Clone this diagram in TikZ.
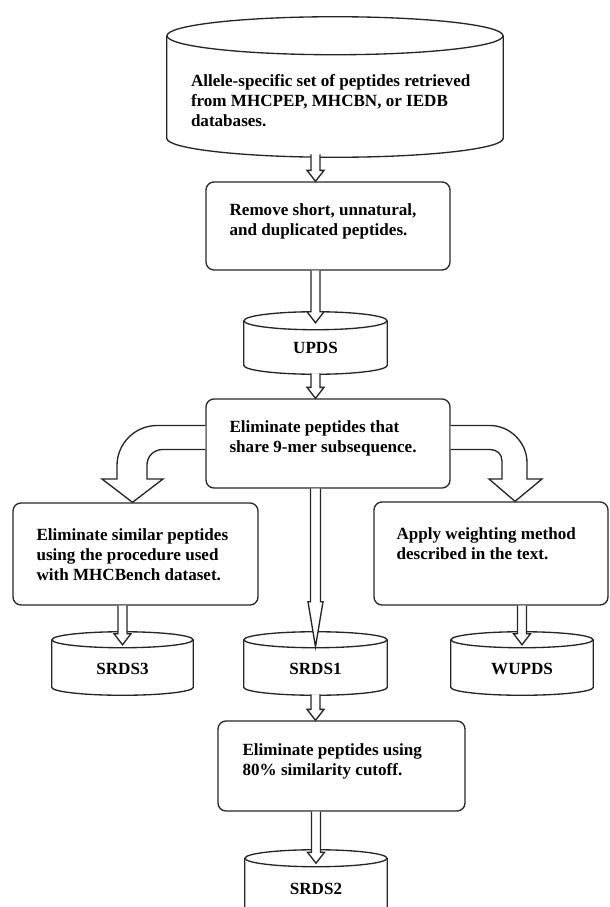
\documentclass[tikz,border=0pt]{standalone}
\usepackage{fontspec}
\setmainfont{Liberation Serif}
\usetikzlibrary{calc}

\newcommand\pxu{0.75pt}

% database cylinder drawn round a body node: name, x radius, y radius
\newcommand\dbshape[3]{%
  \draw[dbline] (#1.north) ellipse [x radius=#2*\pxu, y radius=#3*\pxu];
  \draw[dbline] (#1.north west) -- (#1.south west)
    .. controls ($(#1.south west)+(0,0.552*#3)$) and ($(#1.south)+(-0.552*#2,#3)$) .. ($(#1.south)+(0,#3)$)
    .. controls ($(#1.south)+(0.552*#2,#3)$) and ($(#1.south east)+(0,0.552*#3)$) .. (#1.south east)
    -- (#1.north east);
}

% hollow block arrow going down
\newcommand\blockarrow[2]{%
  \draw[blockarrow] ($(#1)+(-4.5,0)$) -- ($(#2)+(-4.5,-11)$) -- ($(#2)+(-8.5,-11)$) -- (#2)
    -- ($(#2)+(8.5,-11)$) -- ($(#2)+(4.5,-11)$) -- ($(#1)+(4.5,0)$);
}

\tikzset{
  procbox/.style={draw=black!85, line width=1pt, rounded corners=6pt, inner sep=0pt},
  proctext/.style={anchor=north west, inner sep=0pt, align=left},
  dbnode/.style={inner sep=0pt, text height=16pt},
  dbline/.style={draw=black!85, line width=1pt},
  blockarrow/.style={draw=black!85, fill=white, line width=1pt, line join=miter}
}

\begin{document}
\begin{tikzpicture}[x=0.75pt, y=-0.75pt, font=\fontsize{12.8}{15}\selectfont\bfseries]

\useasboundingbox (0,0) rectangle (610,907);
\clip (0,0) rectangle (610,907);

% Databases
\node[dbnode, minimum width=336*\pxu, minimum height=102*\pxu] (db0) at (335,87) {};
\node[dbnode, minimum width=143*\pxu, minimum height=44*\pxu] (upds) at (315.5,343) {UPDS};
\node[dbnode, minimum width=141*\pxu, minimum height=47*\pxu] (srds3) at (122.5,663.5) {SRDS3};
\node[dbnode, minimum width=143*\pxu, minimum height=47*\pxu] (srds1) at (315.5,663.5) {SRDS1};
\node[dbnode, minimum width=142*\pxu, minimum height=47*\pxu] (wupds) at (522,663.5) {WUPDS};
\node[dbnode, minimum width=142*\pxu, minimum height=51*\pxu] (srds2) at (316,884) {SRDS2};

\dbshape{db0}{168}{19}
\dbshape{upds}{71.5}{9}
\dbshape{srds3}{70.5}{8}
\dbshape{srds1}{71.5}{8}
\dbshape{wupds}{71}{8}
\dbshape{srds2}{71}{8.5}

\node[proctext] (db0txt) at ($(db0.north west)+(24,38)$)
  {Allele-specific set of peptides retrieved\\from MHCPEP, MHCBN, or IEDB\\databases.};

% Process boxes
\node[procbox, minimum width=244*\pxu, minimum height=88*\pxu] (remove) at (328,226) {};
\node[proctext] (removetxt) at ($(remove.north west)+(24,22)$)
  {Remove short, unnatural,\\and duplicated peptides.};

\node[procbox, minimum width=244*\pxu, minimum height=89*\pxu] (elim) at (328,443.5) {};
\node[proctext] (elimtxt) at ($(elim.north west)+(24,22)$)
  {Eliminate peptides that\\share 9-mer subsequence.};

\node[procbox, minimum width=245*\pxu, minimum height=102*\pxu] (simbox) at (135.5,554) {};
\node[proctext] (simtxt) at ($(simbox.north west)+(24,26)$)
  {Eliminate similar peptides\\using the procedure used\\with MHCBench dataset.};

\node[procbox, minimum width=234*\pxu, minimum height=103*\pxu] (wbox) at (491,553.5) {};
\node[proctext] (wtxt) at ($(wbox.north west)+(23,26)$)
  {Apply weighting method\\described in the text.};

\node[procbox, minimum width=247*\pxu, minimum height=90*\pxu] (cut) at (341.5,766) {};
\node[proctext] (cuttxt) at ($(cut.north west)+(25,23)$)
  {Eliminate peptides using\\80\% similarity cutoff.};

% Arrow ends
\coordinate (db0bot) at ($(db0.south -| upds.north)+(0,16)$);
\coordinate (updstop) at ($(upds.north)+(0,2)$);
\coordinate (updsbot) at ($(upds.south)+(0,8)$);
\coordinate (srds3top) at ($(srds3.north)+(0,5)$);
\coordinate (srds1top) at ($(srds1.north)+(0,7)$);
\coordinate (srds1bot) at ($(srds1.south)+(0,7)$);
\coordinate (wupdstop) at ($(wupds.north)+(0,5)$);
\coordinate (srds2top) at ($(srds2.north)+(0,5)$);

% Straight arrows
\blockarrow{db0bot}{remove.north -| upds.north}
\blockarrow{remove.south -| upds.north}{updstop}
\blockarrow{updsbot}{elim.north -| upds.north}
\blockarrow{simbox.south -| srds3.north}{srds3top}
\blockarrow{wbox.south -| wupds.north}{wupdstop}
\blockarrow{srds1bot}{cut.north -| srds1.north}
\blockarrow{cut.south -| srds2.north}{srds2top}

% Long arrow with thin head
\draw[blockarrow] ($(elim.south -| srds1.north)+(-5,0)$) -- ($(srds1top)+(-5,-45)$)
  -- ($(srds1top)+(-7.5,-45)$) -- (srds1top) -- ($(srds1top)+(7.5,-45)$)
  -- ($(srds1top)+(5,-45)$) -- ($(elim.south -| srds1.north)+(5,0)$);

% Curved arrows
\draw[blockarrow] ($(elim.west)+(0,-18)$) -- (157,425.5)
  .. controls (135,425.5) and (117,443.5) .. (117,465.5) -- (117,479) -- (102,479)
  -- ($(simbox.north)+(-3,0)$) -- (163,479) -- (147,479) -- (147,465)
  .. controls (147,456) and (154,449.5) .. (163,449.5) -- ($(elim.west)+(0,6)$);
\draw[blockarrow] ($(elim.east)+(0,-18)$) -- (490,425.5)
  .. controls (510,425.5) and (527,442.5) .. (527,462.5) -- (527,479) -- (542,479)
  -- ($(wbox.north)+(24,0)$) -- (489,479) -- (502,479) -- (502,461)
  .. controls (502,454) and (497,449.5) .. (490,449.5) -- ($(elim.east)+(0,6)$);

\end{tikzpicture}
\end{document}
